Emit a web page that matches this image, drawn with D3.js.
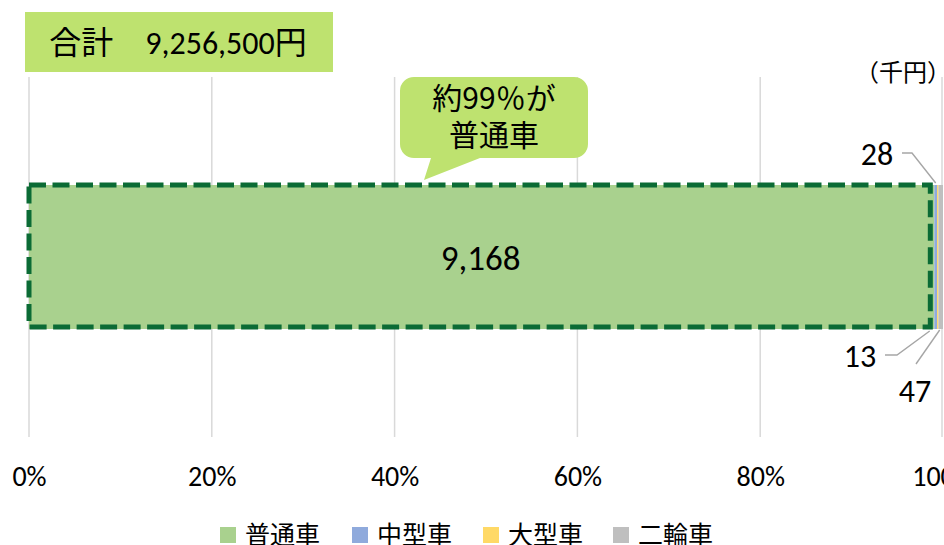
<!DOCTYPE html>
<html>
<head>
<meta charset="utf-8">
<script src="https://cdn.jsdelivr.net/npm/d3@7"></script>
<style>
  body { margin: 0; background: #fff; }
  text { font-family: Carlito, "Noto Sans CJK JP", sans-serif; fill: #000; }
</style>
</head>
<body>
<div id="chart"></div>
<script>
// data (千円)
const categories = ["普通車", "中型車", "大型車", "二輪車"];
const values = [9168, 28, 13, 47];
const colors = ["#A9D18E", "#8FAADC", "#FFD966", "#BFBFBF"];
const tickValues = [0, 0.2, 0.4, 0.6, 0.8, 1.0];
const totalLabel = "合計　9,256,500円";
const calloutLines = ["約99％が", "普通車"];

const W = 944, H = 545;
const svg = d3.select("#chart").append("svg").attr("width", W).attr("height", H);

const total = d3.sum(values);
const x = d3.scaleLinear().domain([0, 1]).range([29, 943]);
const y = d3.scaleBand().domain(["bar"]).range([77, 437]).paddingInner(0).paddingOuter(0.75);

// gridlines
svg.append("g").selectAll("line").data(tickValues).enter().append("line")
  .attr("x1", d => Math.min(x(d), 942)).attr("x2", d => Math.min(x(d), 942))
  .attr("y1", 77).attr("y2", 437)
  .attr("stroke", "#D9D9D9").attr("stroke-width", 1.5);

// axis labels
const xAxis = d3.axisBottom(x).tickValues(tickValues).tickFormat(d3.format(".0%")).tickSize(0);
const ax = svg.append("g").attr("transform", "translate(0,466)").call(xAxis);
ax.select(".domain").remove();
ax.selectAll("text").style("font-size", "28px").attr("dy", "0.35em").attr("y", 10);

// stacked segments
let acc = 0;
const segs = values.map((v, i) => {
  const s = {cat: categories[i], v, x0: acc / total, x1: (acc + v) / total, color: colors[i]};
  acc += v;
  return s;
});
const by = y("bar"), bh = y.bandwidth();
svg.append("g").selectAll("rect").data(segs).enter().append("rect")
  .attr("x", d => x(d.x0)).attr("y", by)
  .attr("width", d => x(d.x1) - x(d.x0)).attr("height", bh)
  .attr("fill", d => d.color);

// dashed outline around 普通車
const g0 = segs[0];
svg.append("rect")
  .attr("x", x(g0.x0)).attr("y", by)
  .attr("width", x(g0.x1) - x(g0.x0) - 4).attr("height", bh - 2)
  .attr("fill", "none").attr("stroke", "#0B6B35").attr("stroke-width", 5)
  .attr("stroke-dasharray", "17,6.5");

// main label
svg.append("text").attr("x", (x(g0.x0) + x(g0.x1)) / 2 - 1).attr("y", by + bh / 2 + 1)
  .attr("text-anchor", "middle").attr("dy", "0.35em").style("font-size", "35px")
  .text(d3.format(",")(values[0]));

// small labels with leaders
const mid = i => x((segs[i].x0 + segs[i].x1) / 2);
const smallLabels = [
  {i: 1, tx: 877, ty: 154, pts: [[902, 153], [912, 153], [mid(1), by - 2]]},
  {i: 2, tx: 860, ty: 356, pts: [[885, 355], [897, 355], [mid(2) - 8, by + bh + 2]]},
  {i: 3, tx: 915, ty: 391, pts: [[916, 364], [mid(3) - 1, by + bh + 1]]}
];
smallLabels.forEach(l => {
  svg.append("polyline").attr("points", l.pts.map(p => p.join(",")).join(" "))
    .attr("fill", "none").attr("stroke", "#A6A6A6").attr("stroke-width", 1.4);
  svg.append("text").attr("x", l.tx).attr("y", l.ty).attr("text-anchor", "middle")
    .attr("dy", "0.35em").style("font-size", "32px").text(values[l.i]);
});

// unit
svg.append("text").attr("x", 855).attr("y", 73).attr("dy", "0.35em")
  .style("font-family", "'Noto Sans CJK JP', sans-serif")
  .style("font-size", "24px").text("（千円）");

// total box
svg.append("rect").attr("x", 25).attr("y", 12).attr("width", 308).attr("height", 60).attr("fill", "#BEE26F");
svg.append("text").attr("x", 178).attr("y", 43).attr("text-anchor", "middle").attr("dy", "0.35em")
  .style("font-size", "32px").text(totalLabel);

// callout
const cx0 = 400, cy0 = 77, cw = 188, ch = 81, r = 14;
const path = d3.path();
path.moveTo(cx0 + r, cy0);
path.lineTo(cx0 + cw - r, cy0);
path.arcTo(cx0 + cw, cy0, cx0 + cw, cy0 + r, r);
path.lineTo(cx0 + cw, cy0 + ch - r);
path.arcTo(cx0 + cw, cy0 + ch, cx0 + cw - r, cy0 + ch, r);
path.lineTo(480, cy0 + ch);
path.lineTo(424, 180);
path.lineTo(431, cy0 + ch);
path.lineTo(cx0 + r, cy0 + ch);
path.arcTo(cx0, cy0 + ch, cx0, cy0 + ch - r, r);
path.lineTo(cx0, cy0 + r);
path.arcTo(cx0, cy0, cx0 + r, cy0, r);
path.closePath();
svg.append("path").attr("d", path.toString()).attr("fill", "#BEE26F");
calloutLines.forEach((t, i) => {
  svg.append("text").attr("x", cx0 + cw / 2).attr("y", 98 + i * 37).attr("text-anchor", "middle")
    .attr("dy", "0.35em").style("font-family", "'Noto Sans CJK JP', sans-serif")
    .style("font-size", "30px").text(t);
});

// legend
const legendX = [220, 352, 483, 613];
const lg = svg.append("g").selectAll("g").data(categories).enter().append("g")
  .attr("transform", (d, i) => `translate(${legendX[i]},527)`);
lg.append("rect").attr("width", 16).attr("height", 16).attr("fill", (d, i) => colors[i]);
lg.append("text").attr("x", 25).attr("y", 8).attr("dy", "0.35em")
  .style("font-family", "'Noto Sans CJK JP', sans-serif")
  .style("font-size", "25px").text(d => d);
</script>
</body>
</html>
